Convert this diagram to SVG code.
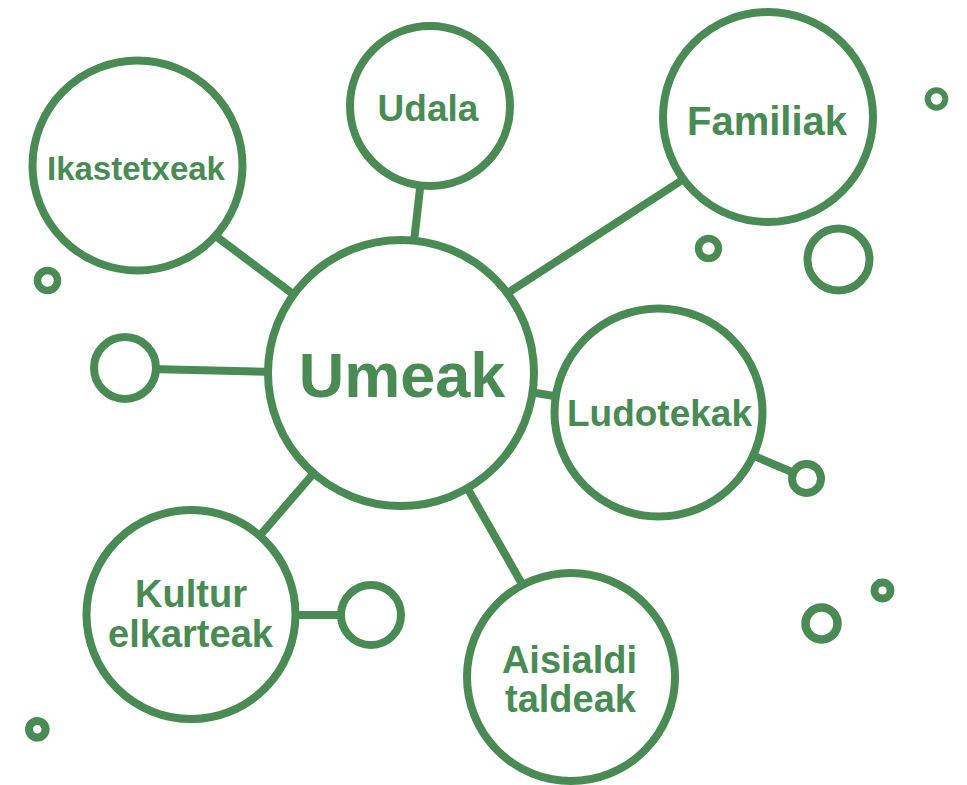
<svg xmlns="http://www.w3.org/2000/svg" width="967" height="785" viewBox="0 0 967 785">
<style>
.ln{stroke:#4a8a55;stroke-width:8;fill:none}
.nd{stroke:#4a8a55;stroke-width:8;fill:#fff}
.dot{stroke:#4a8a55;fill:none}
.t{font-family:"Liberation Sans",Arial,sans-serif;font-weight:bold;fill:#4a8a55;text-anchor:middle}
</style>
<rect width="967" height="785" fill="#fff"/>
<g id="connectors">
<line class="ln" x1="205" y1="228" x2="305" y2="303"/>
<line class="ln" x1="421" y1="180" x2="413" y2="250"/>
<line class="ln" x1="500" y1="298" x2="690" y2="175"/>
<line class="ln" x1="150" y1="369" x2="275" y2="372"/>
<line class="ln" x1="530" y1="392" x2="560" y2="397"/>
<line class="ln" x1="740" y1="450" x2="806" y2="478"/>
<line class="ln" x1="320" y1="466" x2="250" y2="547"/>
<line class="ln" x1="290" y1="615" x2="345" y2="615"/>
<line class="ln" x1="465" y1="484" x2="530" y2="598"/>
</g>
<g id="umeak"><circle class="nd" cx="401" cy="373" r="133"/><text class="t" x="402" y="397" font-size="63">Umeak</text></g>
<g id="ikastetxeak"><circle class="nd" cx="137.5" cy="165.5" r="105"/><text class="t" x="136" y="180" font-size="33">Ikastetxeak</text></g>
<g id="udala"><circle class="nd" cx="430" cy="106" r="80"/><text class="t" x="428" y="121" font-size="37">Udala</text></g>
<g id="familiak"><circle class="nd" cx="768" cy="117" r="105"/><text class="t" x="767" y="135" font-size="40">Familiak</text></g>
<g id="ludotekak"><circle class="nd" cx="658.5" cy="412.5" r="104"/><text class="t" x="659.5" y="426" font-size="37">Ludotekak</text></g>
<g id="kultur"><circle class="nd" cx="191" cy="614.5" r="104.5"/><text class="t" x="191" y="607" font-size="38">Kultur</text><text class="t" x="190.5" y="647" font-size="38">elkarteak</text></g>
<g id="aisialdi"><circle class="nd" cx="571" cy="677" r="104"/><text class="t" x="569.5" y="673" font-size="38">Aisialdi</text><text class="t" x="570.5" y="712" font-size="38">taldeak</text></g>
<g id="deco">
<circle class="nd" cx="125" cy="368" r="31"/>
<circle class="nd" cx="371" cy="615" r="30"/>
<circle class="nd" cx="806.5" cy="478.5" r="14.5"/>
<circle class="nd" cx="838.5" cy="259.5" r="31"/>
<circle class="dot" cx="708.5" cy="248.5" r="10" stroke-width="7.5"/>
<circle class="dot" cx="936.5" cy="99" r="8.8" stroke-width="6"/>
<circle class="dot" cx="882.5" cy="590.5" r="8" stroke-width="7.8"/>
<circle class="dot" cx="821.5" cy="623.5" r="16" stroke-width="8.5"/>
<circle class="dot" cx="47.5" cy="280.5" r="10" stroke-width="7.5"/>
<circle class="dot" cx="37.3" cy="729.3" r="8.3" stroke-width="8"/>
</g>
</svg>
